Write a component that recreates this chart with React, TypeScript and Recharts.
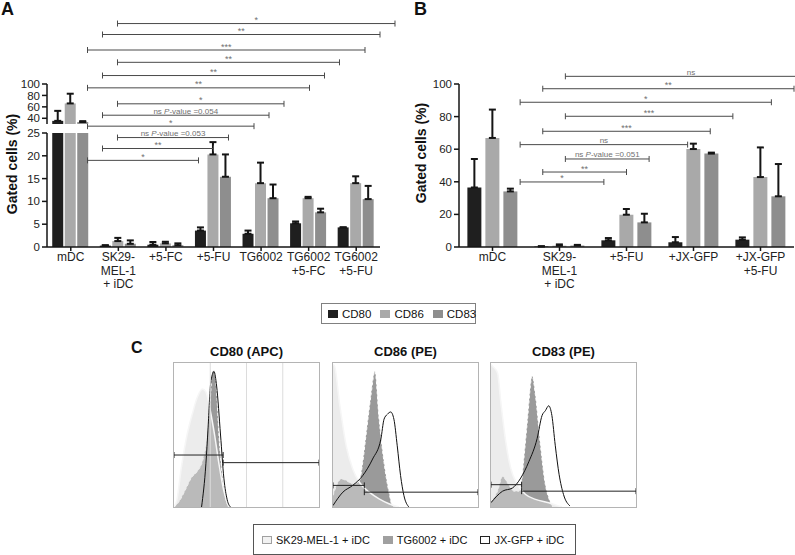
import React from "react";
import { ComposedChart, Bar, ErrorBar, XAxis, YAxis, ReferenceLine, Area } from "recharts";

const FONT = "'Liberation Sans', Arial, Helvetica, sans-serif";
const C80 = "#1f1f1f";
const C86 = "#a9a9a9";
const C83 = "#8e8e8e";
const AXIS = "#151515";

// ── Panel A data ───────────────────────────────────────────────
const CATS_A = ["mDC", "SK29-\nMEL-1\n+ iDC", "+5-FC", "+5-FU", "TG6002", "TG6002\n+5-FC", "TG6002\n+5-FU"];
const CD80_A = [35.5, 0.3, 0.5, 3.6, 2.9, 5.2, 4.3];
const CD80_A_ERR = [17.5, 0.1, 0.6, 0.7, 0.7, 0.4, 0];
const CD86_A = [66, 1.3, 0.8, 20.3, 14.0, 10.7, 14.0];
const CD86_A_ERR = [17, 0.7, 0.35, 2.7, 4.5, 0.3, 1.5];
const CD83_A = [33.5, 0.7, 0.4, 15.4, 10.7, 7.6, 10.5];
const CD83_A_ERR = [1.5, 0.75, 0.4, 4.9, 3.0, 0.8, 2.9];

// significance brackets, A (levels in lower-axis units)
const SIG_A_LEVEL = [49, 46.6, 43.2, 40.5, 37.6, 34.9, 31.4, 28.9, 26.5, 24.0, 21.6, 19.0];
const SIG_A_LABEL = ["*", "**", "***", "**", "**", "**", "*", "ns P-value =0.054", "*", "ns P-value =0.053", "**", "*"];
const SIG_A_SERIES = [2, 1, 0, 2, 1, 0, 2, 1, 0, 2, 1, 0];
const SIG_A_TO = [6, 6, 6, 5, 5, 5, 4, 4, 4, 3, 3, 3];

// ── Panel B data ───────────────────────────────────────────────
const CATS_B = ["mDC", "SK29-\nMEL-1\n+ iDC", "+5-FU", "+JX-GFP", "+JX-GFP\n+5-FU"];
const CD80_B = [36.5, 0.3, 4.1, 2.9, 4.5];
const CD80_B_ERR = [17.5, 0.2, 1.4, 3.2, 1.4];
const CD86_B = [66.9, 0.8, 19.8, 60.1, 42.9];
const CD86_B_ERR = [17.4, 0.8, 3.5, 3.3, 18.2];
const CD83_B = [34.1, 0.9, 15.1, 57.3, 31.1];
const CD83_B_ERR = [1.7, 0.4, 5.3, 0.6, 19.8];

const SIG_B_LEVEL = [104.7, 97.1, 88.8, 80.2, 71.0, 62.8, 54.0, 46.0, 39.9];
const SIG_B_LABEL = ["ns", "**", "*", "***", "***", "ns", "ns P-value =0.051", "**", "*"];
const SIG_B_SERIES = [2, 1, 0, 2, 1, 0, 2, 1, 0];
const SIG_B_TO = [4, 4, 4, 3, 3, 3, 2, 2, 2];

// bar centre offset inside a category band, per series (fraction of band)
const SERIES_OFFSET = [-0.27, 0, 0.27];

// ── Panel C data (x, y as % of the plot box) ───────────────────
const CD80_SK_X = [0, 2, 5, 9, 13, 16, 19.7, 22, 25, 28, 31, 34.4, 37.8];
const CD80_SK_Y = [0, 5, 27, 50, 66, 76, 82, 80, 67, 50, 30, 11, 0];
const CD80_TG_X = [0, 3, 8.4, 11.8, 16.3, 19.7, 23, 24.9, 26.5, 27.6, 29.4, 31, 33.3, 35.5, 38];
const CD80_TG_Y = [0, 3, 13, 20, 25, 32, 50, 73, 94, 95, 80, 50, 22, 6, 0];
const CD80_JX_X = [19, 22, 23.5, 25.3, 27.6, 29.4, 32.1, 34.4, 36.7, 39];
const CD80_JX_Y = [0, 30, 55, 86, 94, 84, 50, 20, 5, 0];

const CD86_SK_X = [0, 1.1, 4.5, 9.1, 13.6, 18.2, 25, 31.8, 38.6, 45.5];
const CD86_SK_Y = [99, 97.7, 72, 42.5, 26.4, 17.2, 10.3, 5.7, 2.3, 0];
const CD86_TG_X = [0, 5.7, 9.1, 13.6, 18.2, 20.5, 22.7, 26.1, 28.9, 31.8, 35.2, 38.6, 40.9, 43.2];
const CD86_TG_Y = [8, 19.5, 18.4, 16.1, 18.4, 31, 49.4, 77, 94.3, 61, 31, 10.3, 1.1, 0];
const CD86_JX_X = [0, 6.8, 13.6, 20.5, 27.3, 33, 35.2, 37.5, 39.8, 42, 44.3, 46.6, 48.9, 52.3];
const CD86_JX_Y = [1, 10.3, 15, 21.8, 33.3, 47.1, 61, 64.4, 66, 61, 42.5, 21.8, 8, 0];

const CD83_SK_X = [0, 1.1, 4.5, 6.8, 10.2, 13.6, 18.2, 23.9, 30.7, 39.8, 48.9];
const CD83_SK_Y = [99, 97.7, 93.2, 72.6, 45.2, 26.9, 15.5, 8.7, 5.3, 3, 0];
const CD83_TG_X = [0, 4.5, 8, 11.4, 15.9, 19.3, 21.1, 22.7, 25, 28.4, 30.7, 34.1, 37.5, 39.8, 42];
const CD83_TG_Y = [4, 11, 21.2, 16.7, 11, 11, 17.8, 33.8, 58.9, 90.9, 77.2, 42.9, 15.5, 6.4, 0.7];
const CD83_JX_X = [0, 8, 14.8, 20.5, 26.1, 31.8, 35.2, 37.5, 39.8, 42, 44.3, 47, 50, 54.5];
const CD83_JX_Y = [3, 11, 13.2, 20.1, 31.5, 47.5, 63.5, 66.9, 70.3, 63.5, 42.9, 22.4, 8.7, 0.7];

const HIST_TITLES = ["CD80 (APC)", "CD86 (PE)", "CD83 (PE)"];
const GATE_SPLIT = [33.9, 21.6, 21.1];
const GATE_LEFT_Y = [36.1, 15, 15.5];
const GATE_RIGHT_Y = [30.8, 10.3, 11];

const zip = (xs: number[], ys: number[]) => xs.map((x, i) => ({ x, y: ys[i] }));

const HISTS = [
  { sk: zip(CD80_SK_X, CD80_SK_Y), tg: zip(CD80_TG_X, CD80_TG_Y), jx: zip(CD80_JX_X, CD80_JX_Y), grid: true },
  { sk: zip(CD86_SK_X, CD86_SK_Y), tg: zip(CD86_TG_X, CD86_TG_Y), jx: zip(CD86_JX_X, CD86_JX_Y), grid: false },
  { sk: zip(CD83_SK_X, CD83_SK_Y), tg: zip(CD83_TG_X, CD83_TG_Y), jx: zip(CD83_JX_X, CD83_JX_Y), grid: false },
];

function rows(cats: string[], a: number[], ae: number[], b: number[], be: number[], c: number[], ce: number[]) {
  return cats.map((name, i) => ({
    name,
    cd80: a[i], cd80Err: ae[i],
    cd86: b[i], cd86Err: be[i],
    cd83: c[i], cd83Err: ce[i],
  }));
}

const ROWS_A = rows(CATS_A, CD80_A, CD80_A_ERR, CD86_A, CD86_A_ERR, CD83_A, CD83_A_ERR);
const ROWS_B = rows(CATS_B, CD80_B, CD80_B_ERR, CD86_B, CD86_B_ERR, CD83_B, CD83_B_ERR);

const SERIES = [
  { key: "cd80", fill: C80 },
  { key: "cd86", fill: C86 },
  { key: "cd83", fill: C83 },
];

// ── helpers ───────────────────────────────────────────────────

function CatTick(props: any) {
  const { x, y, payload } = props;
  const lines = String(payload.value).split("\n");
  return (
    <text x={x} y={y + 8} textAnchor="middle" fontSize={12} fill="#222" fontFamily={FONT}>
      {lines.map((l, i) => (
        <tspan key={i} x={x} dy={i === 0 ? 0 : 13.5}>
          {l}
        </tspan>
      ))}
    </text>
  );
}

function bracket(label: string) {
  return function BracketShape(p: any) {
    const x1 = Number(p.x1);
    const x2 = Number(p.x2);
    const y = Number(p.y1);
    const stars = label.startsWith("*");
    let content: React.ReactNode = label;
    if (label.includes("P-value")) {
      const [pre, post] = label.split("P");
      content = (
        <>
          {pre}
          <tspan fontStyle="italic">P</tspan>
          {post}
        </>
      );
    }
    return (
      <g>
        <line x1={x1} y1={y} x2={x2} y2={y} stroke="#4a4a4a" strokeWidth={1} />
        <line x1={x1} y1={y - 3} x2={x1} y2={y + 3} stroke="#4a4a4a" strokeWidth={1} />
        <line x1={x2} y1={y - 3} x2={x2} y2={y + 3} stroke="#4a4a4a" strokeWidth={1} />
        <text
          x={(x1 + x2) / 2}
          y={stars ? y - 0.5 : y - 1.5}
          textAnchor="middle"
          fontSize={stars ? 9 : 8}
          fill="#707070"
          fontFamily={FONT}
        >
          {content}
        </text>
      </g>
    );
  };
}

function gateShape(p: any) {
  const x1 = Number(p.x1);
  const x2 = Number(p.x2);
  const y = Number(p.y1);
  return (
    <g>
      <line x1={x1} y1={y} x2={x2} y2={y} stroke="#222" strokeWidth={1} />
      <line x1={x1} y1={y - 3} x2={x1} y2={y + 3} stroke="#222" strokeWidth={1} />
      <line x1={x2} y1={y - 3} x2={x2} y2={y + 3} stroke="#222" strokeWidth={1} />
    </g>
  );
}

const yTick = { fontSize: 11.5, fill: "#222", fontFamily: FONT };
const axisStyle = { stroke: AXIS, strokeWidth: 1.5 };

function Brackets(levels: number[], labels: string[], series: number[], to: number[]) {
  return levels.map((lv, i) => (
    <ReferenceLine
      key={"sig" + i}
      xAxisId="pos"
      ifOverflow="visible"
      segment={[
        { x: 1 + SERIES_OFFSET[series[i]], y: lv },
        { x: to[i] + SERIES_OFFSET[series[i]], y: lv },
      ]}
      shape={bracket(labels[i])}
    />
  ));
}

// ── Panel A ───────────────────────────────────────────────────

function PanelA() {
  const lowErr = (k: string) => (d: any) => (d[k] > 25 ? undefined : [0, d[k + "Err"]]);
  const upVal = (k: string) => (d: any) => (d[k] >= 30 ? d[k] : null);
  const upErr = (k: string) => (d: any) => (d[k] >= 30 ? [0, d[k + "Err"]] : undefined);
  return (
    <>
      <div style={{ position: "absolute", left: 0, top: 0 }}>
        <ComposedChart
          width={400}
          height={300}
          data={ROWS_A}
          margin={{ top: 133, right: 20, bottom: 23, left: 0 }}
          barCategoryGap="11%"
          barGap={1.5}
        >
          <XAxis
            xAxisId="cat"
            dataKey="name"
            height={30}
            interval={0}
            tick={<CatTick />}
            tickSize={4}
            tickLine={axisStyle}
            axisLine={axisStyle}
          />
          <XAxis xAxisId="pos" type="number" domain={[-0.5, 6.5]} hide />
          <YAxis
            width={47}
            domain={[0, 25]}
            ticks={[0, 5, 10, 15, 20, 25]}
            interval={0}
            allowDataOverflow
            tick={yTick}
            tickSize={5}
            tickMargin={2}
            tickLine={axisStyle}
            axisLine={axisStyle}
          />
          {SERIES.map((s) => (
            <Bar key={s.key} xAxisId="cat" dataKey={s.key} fill={s.fill} isAnimationActive={false}>
              <ErrorBar dataKey={lowErr(s.key)} width={3.5} stroke={AXIS} strokeWidth={2} isAnimationActive={false} />
            </Bar>
          ))}
          {Brackets(SIG_A_LEVEL, SIG_A_LABEL, SIG_A_SERIES, SIG_A_TO)}
        </ComposedChart>
      </div>
      <div style={{ position: "absolute", left: 0, top: 74 }}>
        <ComposedChart
          width={400}
          height={60}
          data={ROWS_A}
          margin={{ top: 10, right: 20, bottom: 10, left: 0 }}
          barCategoryGap="11%"
          barGap={1.5}
        >
          <XAxis dataKey="name" hide />
          <YAxis
            width={47}
            domain={[30, 100]}
            ticks={[40, 60, 80, 100]}
            interval={0}
            allowDataOverflow
            tick={yTick}
            tickSize={5}
            tickMargin={2}
            tickLine={axisStyle}
            axisLine={axisStyle}
          />
          {SERIES.map((s) => (
            <Bar key={s.key} dataKey={upVal(s.key)} fill={s.fill} isAnimationActive={false}>
              <ErrorBar dataKey={upErr(s.key)} width={3.5} stroke={AXIS} strokeWidth={2} isAnimationActive={false} />
            </Bar>
          ))}
        </ComposedChart>
      </div>
    </>
  );
}

// ── Panel B ───────────────────────────────────────────────────

function PanelB() {
  return (
    <div style={{ position: "absolute", left: 400, top: 0 }}>
      <ComposedChart
        width={395}
        height={300}
        data={ROWS_B}
        margin={{ top: 84, right: 1, bottom: 23, left: 0 }}
        barCategoryGap="12.5%"
        barGap={4}
      >
        <XAxis
          xAxisId="cat"
          dataKey="name"
          height={30}
          interval={0}
          tick={<CatTick />}
          tickSize={4}
          tickLine={axisStyle}
          axisLine={axisStyle}
        />
        <XAxis xAxisId="pos" type="number" domain={[-0.5, 4.5]} hide />
        <YAxis
          width={59}
          domain={[0, 100]}
          ticks={[0, 20, 40, 60, 80, 100]}
          interval={0}
          tick={yTick}
          tickSize={5}
          tickMargin={2}
          tickLine={axisStyle}
          axisLine={axisStyle}
        />
        {SERIES.map((s) => (
          <Bar key={s.key} xAxisId="cat" dataKey={s.key} fill={s.fill} isAnimationActive={false}>
            <ErrorBar
              dataKey={(d: any) => [0, d[s.key + "Err"]]}
              width={3.5}
              stroke={AXIS}
              strokeWidth={2}
              isAnimationActive={false}
            />
          </Bar>
        ))}
        {Brackets(SIG_B_LEVEL, SIG_B_LABEL, SIG_B_SERIES, SIG_B_TO)}
      </ComposedChart>
    </div>
  );
}

// ── Panel C ───────────────────────────────────────────────────

function Histogram({ idx, left }: { idx: number; left: number }) {
  const h = HISTS[idx];
  return (
    <>
      <div
        style={{
          position: "absolute",
          left,
          top: 344,
          width: 147,
          textAlign: "center",
          fontWeight: "bold",
          fontSize: 13,
          lineHeight: "16px",
          color: "#111",
        }}
      >
        {HIST_TITLES[idx]}
      </div>
      <div
        style={{
          position: "absolute",
          left,
          top: 362,
          width: 147,
          height: 146,
          border: "1px solid #b4b4b4",
          boxSizing: "border-box",
        }}
      >
        <ComposedChart width={145} height={144} margin={{ top: 0, right: 0, bottom: 0, left: 0 }}>
          <XAxis type="number" dataKey="x" domain={[0, 100]} hide allowDataOverflow />
          <YAxis type="number" domain={[0, 100]} hide allowDataOverflow />
          {h.grid && [25, 50, 75].map((v) => <ReferenceLine key={v} x={v} stroke="#dcdcdc" />)}
          <Area
            data={h.tg}
            dataKey="y"
            type="monotone"
            fill="#9a9a9a"
            fillOpacity={1}
            stroke="#ffffff"
            strokeWidth={1}
            strokeDasharray="3 2"
            isAnimationActive={false}
          />
          <Area
            data={h.sk}
            dataKey="y"
            type="monotone"
            fill="#d9d9d9"
            fillOpacity={0.5}
            stroke="#f6f6f6"
            strokeWidth={1.5}
            isAnimationActive={false}
          />
          <Area
            data={h.jx}
            dataKey="y"
            type="monotone"
            fill="none"
            stroke="#111"
            strokeWidth={1}
            isAnimationActive={false}
          />
          <ReferenceLine
            ifOverflow="visible"
            segment={[
              { x: 0, y: GATE_LEFT_Y[idx] },
              { x: GATE_SPLIT[idx], y: GATE_LEFT_Y[idx] },
            ]}
            shape={gateShape}
          />
          <ReferenceLine
            ifOverflow="visible"
            segment={[
              { x: GATE_SPLIT[idx], y: GATE_RIGHT_Y[idx] },
              { x: 100, y: GATE_RIGHT_Y[idx] },
            ]}
            shape={gateShape}
          />
        </ComposedChart>
      </div>
    </>
  );
}

function Swatch({ bg, border }: { bg: string; border?: string }) {
  return (
    <span
      style={{
        display: "inline-block",
        width: 10,
        height: 8,
        background: bg,
        border: border ? `1px solid ${border}` : "none",
        boxSizing: "border-box",
        marginRight: 4,
      }}
    />
  );
}

export default function App() {
  const letter = (t: string, left: number, top: number, size: number) => (
    <div style={{ position: "absolute", left, top, fontSize: size, lineHeight: `${size}px`, fontWeight: "bold" }}>{t}</div>
  );
  const yLabel = (cx: number, cy: number) => (
    <div
      style={{
        position: "absolute",
        left: cx,
        top: cy,
        transform: "translate(-50%, -50%) rotate(-90deg)",
        whiteSpace: "nowrap",
        fontWeight: "bold",
        fontSize: 14,
        color: "#111",
      }}
    >
      Gated cells (%)
    </div>
  );
  return (
    <div
      style={{
        position: "absolute",
        left: 0,
        top: 0,
        width: 795,
        height: 555,
        overflow: "hidden",
        background: "#fff",
        fontFamily: FONT,
        color: "#111",
      }}
    >
      <PanelA />
      <PanelB />
      {letter("A", 1, 0, 18)}
      {letter("B", 414, 0, 18)}
      {letter("C", 131, 340, 16)}
      {yLabel(12, 164)}
      {yLabel(421, 153)}

      <div
        style={{
          position: "absolute",
          left: 321,
          top: 303,
          width: 155,
          height: 21,
          border: "1px solid #808080",
          boxSizing: "border-box",
          display: "flex",
          alignItems: "center",
          gap: 9,
          paddingLeft: 6,
          fontSize: 11.5,
        }}
      >
        <span style={{ display: "flex", alignItems: "center" }}>
          <Swatch bg={C80} />
          CD80
        </span>
        <span style={{ display: "flex", alignItems: "center" }}>
          <Swatch bg={C86} />
          CD86
        </span>
        <span style={{ display: "flex", alignItems: "center" }}>
          <Swatch bg={C83} />
          CD83
        </span>
      </div>

      <Histogram idx={0} left={173} />
      <Histogram idx={1} left={332} />
      <Histogram idx={2} left={490} />

      <div
        style={{
          position: "absolute",
          left: 253,
          top: 524,
          width: 323,
          height: 31,
          border: "1px solid #555",
          boxSizing: "border-box",
          display: "flex",
          alignItems: "center",
          gap: 13,
          paddingLeft: 8,
          fontSize: 11,
        }}
      >
        <span style={{ display: "flex", alignItems: "center" }}>
          <Swatch bg="#f2f2f2" border="#a0a0a0" />
          SK29-MEL-1 + iDC
        </span>
        <span style={{ display: "flex", alignItems: "center" }}>
          <Swatch bg="#a0a0a0" />
          TG6002 + iDC
        </span>
        <span style={{ display: "flex", alignItems: "center" }}>
          <Swatch bg="#fff" border="#222" />
          JX-GFP + iDC
        </span>
      </div>
    </div>
  );
}
